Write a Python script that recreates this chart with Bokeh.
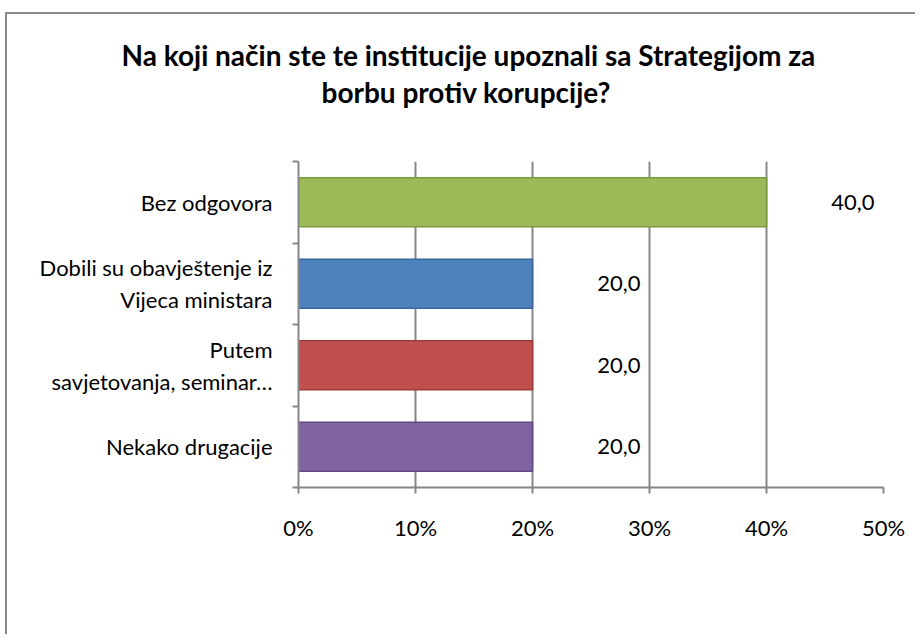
from bokeh.plotting import figure
from bokeh.models import (Range1d, LinearAxis, FixedTicker,
                          ColumnDataSource, LabelSet, Title)
from bokeh.core.properties import value
from bokeh.embed import file_html
from bokeh.resources import INLINE

title_lines = ["Na koji način ste te institucije upoznali sa Strategijom za",
               "borbu protiv korupcije?"]
categories = ["Bez odgovora",
              "Dobili su obavještenje iz\nVijeca ministara",
              "Putem\nsavjetovanja, seminar…",
              "Nekako drugacije"]
values = [40.0, 20.0, 20.0, 20.0]
value_labels = ["40,0", "20,0", "20,0", "20,0"]
bar_colors = ["#9BBB59", "#4F81BD", "#C0504D", "#8064A2"]
edge_colors = ["#7A9A42", "#3B679D", "#9D3C39", "#604B80"]
x_ticks = [0, 10, 20, 30, 40, 50]
x_tick_labels = ["0%", "10%", "20%", "30%", "40%", "50%"]

FONT = "Lato"
GRAY = "#878787"

n = len(categories)
# first category at the top
pos = [n - i - 0.5 for i in range(n)]

src = ColumnDataSource(dict(pos=pos, val=values, lab=value_labels,
                            color=bar_colors, edge=edge_colors))

p = figure(width=910, height=622,
           y_range=Range1d(0, n),
           x_range=Range1d(x_ticks[0], x_ticks[-1]),
           output_backend="svg", toolbar_location=None,
           y_axis_location=None, title_location=None,
           min_border_left=291, min_border_right=34,
           min_border_top=147, min_border_bottom=149)
p.styles = {"border-left": "2px solid #8A8A8A", "border-top": "2px solid #8A8A8A",
            "margin-top": "12px", "margin-left": "5px"}
p.outline_line_color = None
p.background_fill_color = "white"
p.border_fill_color = "white"

# bars
p.hbar(y="pos", left=0, right="val", height=0.6, fill_color="color",
       line_color="edge", line_width=1.5, source=src)

# value labels
p.add_layout(LabelSet(x="val", y="pos", text="lab", source=src, x_offset=108,
                      text_align="right", text_baseline="middle",
                      text_font=value(FONT), text_font_size="22px", text_color="black"))

# x axis
xa = p.xaxis[0]
xa.ticker = FixedTicker(ticks=x_ticks)
xa.major_label_overrides = {t: l for t, l in zip(x_ticks, x_tick_labels)}
xa.axis_line_color = GRAY
xa.axis_line_width = 2
xa.major_tick_line_color = GRAY
xa.major_tick_line_width = 2
xa.major_tick_out = 6
xa.major_tick_in = 0
xa.minor_tick_line_color = None
xa.major_label_text_font = FONT
xa.major_label_text_font_size = "22px"
xa.major_label_text_color = "black"
xa.major_label_standoff = 20

p.xgrid.grid_line_color = GRAY
p.xgrid.grid_line_width = 2
p.ygrid.visible = False

# y axis: boundary ticks (closest to the frame)
ta = LinearAxis(ticker=FixedTicker(ticks=list(range(n + 1))),
                major_label_overrides={i: "" for i in range(n + 1)},
                major_label_standoff=0, major_tick_out=6, major_tick_in=0,
                major_tick_line_color=GRAY, major_tick_line_width=2,
                minor_tick_line_color=None,
                axis_line_color=GRAY, axis_line_width=2,
                major_label_text_font_size="1px")
p.add_layout(ta, "left")

# y axis: category labels
ca = LinearAxis(ticker=FixedTicker(ticks=pos),
                major_label_overrides={pp: c for pp, c in zip(pos, categories)},
                major_tick_line_color=None, minor_tick_line_color=None,
                axis_line_color=None, major_label_standoff=14,
                major_label_text_font=FONT, major_label_text_font_size="22px",
                major_label_text_color="black")
p.add_layout(ca, "left")

# title: two lines, second line closest to the frame
t2 = Title(text=title_lines[1], align="left", offset=23, standoff=106,
           text_font=FONT, text_font_style="bold", text_font_size="28px",
           text_color="black")
t1 = Title(text=title_lines[0], align="left", offset=-177, standoff=-104,
           text_font=FONT, text_font_style="bold", text_font_size="28px",
           text_color="black")
p.add_layout(t2, "above")
p.add_layout(t1, "above")

open("out.html", "w").write(file_html(p, INLINE))
